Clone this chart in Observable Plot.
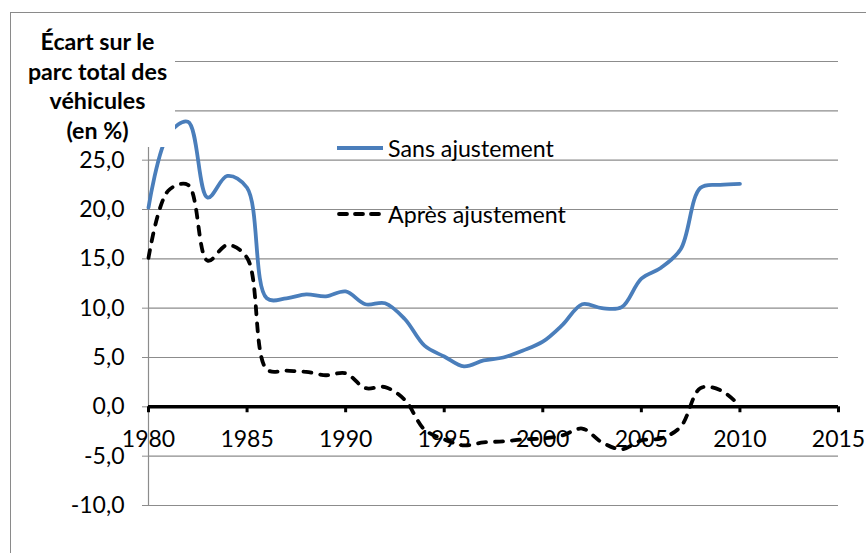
<!DOCTYPE html>
<html><head><meta charset="utf-8">
<script src="https://cdn.jsdelivr.net/npm/d3@7"></script>
<script src="https://cdn.jsdelivr.net/npm/@observablehq/plot@0.6"></script>
<style>
body{margin:0;background:#fff;font-family:Lato,"Open Sans",sans-serif;}
#wrap{position:relative;width:866px;height:553px;overflow:hidden;background:#fff;}
#frame{position:absolute;left:10px;top:12px;width:870px;height:560px;border:1px solid #8a8a8a;box-sizing:border-box;pointer-events:none;}
#title{position:absolute;left:11px;top:13px;width:164px;height:134px;background:#fff;text-align:center;font-weight:bold;font-size:23.2px;line-height:29.6px;padding-top:14px;padding-left:9px;box-sizing:border-box;color:#000;white-space:nowrap;}
.leg{position:absolute;left:337px;font-size:23.2px;color:#000;display:flex;align-items:center;white-space:nowrap;}
.leg svg{margin-right:5px;}
</style></head>
<body><div id="wrap"><div id="chart"></div><div id="frame"></div>
<div id="title">Écart sur le<br>parc total des<br>véhicules<br>(en %)</div>
<div class="leg" id="leg1" style="top:134px"></div>
<div class="leg" id="leg2" style="top:200px"></div>
</div>
<script>
const years = [1980,1981,1982,1983,1984,1985,1986,1987,1988,1989,1990,1991,1992,1993,1994,1995,1996,1997,1998,1999,2000,2001,2002,2003,2004,2005,2006,2007,2008,2009,2010];
const sansAjustement = [20.2,27.6,28.9,21.2,23.4,22.2,11.0,11.0,11.4,11.2,11.7,10.4,10.5,8.9,6.2,5.1,4.1,4.7,5.0,5.7,6.6,8.3,10.4,10.0,10.1,13.0,14.1,16.0,22.2,22.5,22.6];
const apresAjustement = [15.1,21.9,22.5,14.8,16.4,15.1,3.8,3.66,3.55,3.2,3.4,1.9,2.0,0.7,-2.3,-3.3,-3.9,-3.6,-3.5,-3.3,-3.2,-2.9,-2.2,-3.6,-4.3,-3.4,-3.2,-2.0,1.9,1.7,0.1];
const xTicks = [1980,1985,1990,1995,2000,2005,2010,2015];
const yTicks = [-10,-5,0,5,10,15,20,25];
const yGrid = [-10,-5,0,5,10,15,20,25,30,35];
const seriesNames = ["Sans ajustement","Après ajustement"];

const blue = "#4a7ebb";
const gray = "#8c8c8c";
const sans = years.map((y,i)=>({year:y, v:sansAjustement[i]}));
const apres = years.map((y,i)=>({year:y, v:apresAjustement[i]}));
const fmt = d => d.toFixed(1).replace(".", ",");

const chart = Plot.plot({
  width: 866, height: 553,
  marginLeft: 148, marginRight: 28, marginTop: 61, marginBottom: 48,
  style: {fontFamily: "Lato, 'Open Sans', sans-serif", fontSize: "23px", background: "transparent", overflow: "visible"},
  x: {domain: [1980, 2015], axis: null},
  y: {domain: [-10, 35], axis: null},
  marks: [
    Plot.ruleY(yGrid, {stroke: gray, strokeWidth: 1.2}),
    Plot.ruleX([1980], {stroke: gray, strokeWidth: 1.2}),
    Plot.axisY(yTicks, {label: null, tickSize: 6, tickPadding: 18, tickFormat: fmt, stroke: gray, fill: "#000", fontSize: 23}),
    Plot.ruleY([0], {stroke: "#000", strokeWidth: 3.5}),
    Plot.ruleX(xTicks, {y1: 0, y2: -0.6, stroke: "#000", strokeWidth: 3}),
    Plot.text(xTicks, {x: d => d, y: 0, dy: 33, text: d => String(d), fill: "#000", fontSize: 23}),
    Plot.line(sans, {x: "year", y: "v", stroke: blue, strokeWidth: 3.8, curve: "catmull-rom"}),
    Plot.line(apres, {x: "year", y: "v", stroke: "#000", strokeWidth: 3.8, strokeDasharray: "8,9", strokeLinecap: "round", curve: "catmull-rom"})
  ]
});
document.getElementById("chart").appendChild(chart);

document.getElementById("leg1").innerHTML =
  `<svg width="46" height="6"><line x1="0" y1="3" x2="46" y2="3" stroke="${blue}" stroke-width="3.8"/></svg>${seriesNames[0]}`;
document.getElementById("leg2").innerHTML =
  `<svg width="46" height="6"><line x1="2" y1="3" x2="44" y2="3" stroke="#000" stroke-width="3.8" stroke-linecap="round" stroke-dasharray="8,8"/></svg>${seriesNames[1]}`;
</script>
</body></html>
